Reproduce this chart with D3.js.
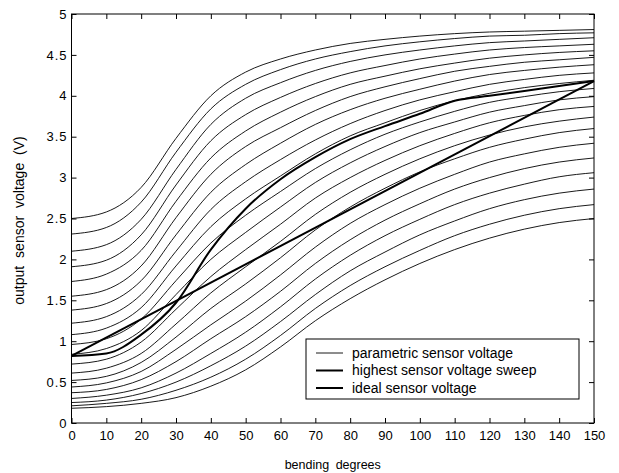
<!DOCTYPE html>
<html>
<head>
<meta charset="utf-8">
<script src="https://cdn.jsdelivr.net/npm/d3@7"></script>
<style>
  body { margin: 0; background: #fff; }
  text { font-family: "Liberation Sans", Arial, sans-serif; fill: #000; }
</style>
</head>
<body>
<div id="chart"></div>
<script>
// bending angle samples (degrees)
var degrees = [0, 10, 20, 30, 40, 50, 60, 70, 80, 90, 100, 110, 120, 130, 140, 150]

// parametric sensor voltage sweeps, top to bottom
var parametric = [
  [2.50, 2.58, 2.88, 3.48, 4.00, 4.29, 4.45, 4.56, 4.64, 4.69, 4.73, 4.76, 4.78, 4.79, 4.80, 4.81],
  [2.31, 2.39, 2.70, 3.31, 3.84, 4.14, 4.32, 4.45, 4.54, 4.61, 4.66, 4.70, 4.73, 4.74, 4.76, 4.77],
  [2.10, 2.18, 2.49, 3.10, 3.65, 3.97, 4.16, 4.31, 4.42, 4.50, 4.56, 4.61, 4.65, 4.67, 4.69, 4.71],
  [1.91, 1.99, 2.30, 2.91, 3.45, 3.77, 3.98, 4.15, 4.28, 4.37, 4.45, 4.51, 4.56, 4.59, 4.61, 4.63],
  [1.73, 1.82, 2.11, 2.71, 3.24, 3.57, 3.80, 3.99, 4.14, 4.24, 4.33, 4.40, 4.46, 4.50, 4.53, 4.55],
  [1.55, 1.63, 1.92, 2.51, 3.04, 3.38, 3.61, 3.82, 3.99, 4.11, 4.21, 4.30, 4.36, 4.41, 4.44, 4.47],
  [1.38, 1.46, 1.74, 2.30, 2.82, 3.16, 3.42, 3.65, 3.83, 3.97, 4.08, 4.18, 4.26, 4.31, 4.35, 4.38],
  [1.22, 1.30, 1.57, 2.10, 2.61, 2.95, 3.22, 3.46, 3.66, 3.82, 3.95, 4.05, 4.14, 4.20, 4.25, 4.28],
  [1.08, 1.16, 1.41, 1.92, 2.40, 2.74, 3.02, 3.29, 3.51, 3.67, 3.82, 3.94, 4.03, 4.10, 4.15, 4.19],
  [0.96, 1.03, 1.27, 1.74, 2.20, 2.54, 2.83, 3.11, 3.34, 3.53, 3.68, 3.81, 3.92, 3.99, 4.05, 4.09],
  [0.84, 0.91, 1.13, 1.57, 2.00, 2.33, 2.64, 2.94, 3.18, 3.38, 3.55, 3.68, 3.80, 3.88, 3.95, 3.99],
  [0.72, 0.78, 0.99, 1.39, 1.79, 2.12, 2.43, 2.75, 3.00, 3.21, 3.39, 3.54, 3.67, 3.76, 3.83, 3.87],
  [0.61, 0.67, 0.85, 1.21, 1.59, 1.91, 2.22, 2.55, 2.82, 3.04, 3.23, 3.39, 3.52, 3.62, 3.69, 3.74],
  [0.52, 0.57, 0.74, 1.05, 1.40, 1.70, 2.02, 2.36, 2.64, 2.87, 3.07, 3.23, 3.37, 3.47, 3.55, 3.60],
  [0.44, 0.49, 0.63, 0.90, 1.20, 1.49, 1.81, 2.15, 2.44, 2.67, 2.87, 3.04, 3.19, 3.29, 3.37, 3.42],
  [0.37, 0.41, 0.53, 0.75, 1.03, 1.30, 1.61, 1.95, 2.24, 2.48, 2.68, 2.86, 3.00, 3.11, 3.19, 3.24],
  [0.30, 0.34, 0.43, 0.61, 0.85, 1.11, 1.42, 1.76, 2.05, 2.29, 2.49, 2.67, 2.81, 2.92, 3.01, 3.06],
  [0.25, 0.28, 0.36, 0.50, 0.70, 0.94, 1.24, 1.57, 1.86, 2.09, 2.30, 2.47, 2.62, 2.73, 2.81, 2.86],
  [0.21, 0.24, 0.29, 0.40, 0.56, 0.78, 1.07, 1.40, 1.68, 1.91, 2.11, 2.29, 2.43, 2.54, 2.62, 2.67],
  [0.18, 0.20, 0.24, 0.31, 0.45, 0.65, 0.93, 1.25, 1.52, 1.75, 1.95, 2.12, 2.26, 2.37, 2.45, 2.50]
]

// highest sensor voltage sweep
var highest = [0.82, 0.85, 1.08, 1.47, 2.12, 2.62, 2.98, 3.25, 3.47, 3.63, 3.78, 3.94, 4.00, 4.06, 4.12, 4.18]

// ideal sensor voltage (straight line)
var idealDeg = [0, 150]
var ideal = [0.82, 4.18]

var xTicks = [0, 10, 20, 30, 40, 50, 60, 70, 80, 90, 100, 110, 120, 130, 140, 150]
var yTicks = [0, 0.5, 1, 1.5, 2, 2.5, 3, 3.5, 4, 4.5, 5]

var legendLabels = ["parametric sensor voltage", "highest sensor voltage sweep", "ideal sensor voltage"]

var width = 619, height = 473
var margin = {top: 14, right: 25, bottom: 50, left: 71.5}
var w = width - margin.left - margin.right
var h = height - margin.top - margin.bottom

var svg = d3.select("#chart").append("svg")
    .attr("width", width)
    .attr("height", height)

var g = svg.append("g")
    .attr("transform", "translate(" + margin.left + "," + margin.top + ")")

var x = d3.scaleLinear().domain([0, 150]).range([0, w])
var y = d3.scaleLinear().domain([0, 5]).range([h, 0])

var line = d3.line()
    .x(d => x(d[0]))
    .y(d => y(d[1]))
    .curve(d3.curveMonotoneX)

// thin curves
g.append("g")
    .attr("fill", "none")
    .attr("stroke", "#000")
    .attr("stroke-width", 0.9)
  .selectAll("path")
  .data(parametric)
  .join("path")
    .attr("d", d => line(degrees.map((t, i) => [t, d[i]])))

// thick curves
g.append("path")
    .attr("fill", "none")
    .attr("stroke", "#000")
    .attr("stroke-width", 2)
    .attr("d", line(degrees.map((t, i) => [t, highest[i]])))

g.append("path")
    .attr("fill", "none")
    .attr("stroke", "#000")
    .attr("stroke-width", 2)
    .attr("d", d3.line().x(d => x(d[0])).y(d => y(d[1]))(idealDeg.map((t, i) => [t, ideal[i]])))

// axes, ticks pointing inward on all four sides
var tickLen = 5

g.append("g")
    .attr("transform", "translate(0," + h + ")")
    .call(d3.axisBottom(x).tickValues(xTicks).tickSize(-tickLen).tickPadding(8).tickFormat(d => d))
g.append("g")
    .call(d3.axisTop(x).tickValues(xTicks).tickSize(-tickLen).tickFormat(""))
g.append("g")
    .attr("class", "yaxis")
    .call(d3.axisLeft(y).tickValues(yTicks).tickSize(-tickLen).tickPadding(4).tickFormat(d => d))
g.append("g")
    .attr("transform", "translate(" + w + ",0)")
    .call(d3.axisRight(y).tickValues(yTicks).tickSize(-tickLen).tickFormat(""))

g.selectAll(".domain").remove()
g.selectAll(".tick line").attr("stroke", "#000")
g.selectAll(".tick text")
    .style("font-family", "'Liberation Sans', Arial, sans-serif")
    .style("font-size", "13px")
g.selectAll(".yaxis .tick text")
    .style("letter-spacing", "1px")

// legend
var lg = g.append("g")
    .attr("transform", "translate(" + (306 - margin.left) + "," + (339 - margin.top) + ")")

lg.append("rect")
    .attr("width", 273)
    .attr("height", 60)
    .attr("fill", "#fff")
    .attr("stroke", "#000")
    .attr("stroke-width", 1)

lg.selectAll("line")
  .data(legendLabels)
  .join("line")
    .attr("x1", 10)
    .attr("x2", 37)
    .attr("y1", (d, i) => 14 + i * 17.5)
    .attr("y2", (d, i) => 14 + i * 17.5)
    .attr("stroke", "#000")
    .attr("stroke-width", (d, i) => i == 0 ? 0.9 : 2)

lg.selectAll("text")
  .data(legendLabels)
  .join("text")
    .attr("x", 46)
    .attr("y", (d, i) => 14 + i * 17.5)
    .attr("dy", "0.35em")
    .style("font-size", "14px")
    .text(d => d)

// frame
g.append("rect")
    .attr("width", w)
    .attr("height", h)
    .attr("fill", "none")
    .attr("stroke", "#000")
    .attr("stroke-width", 1)

// axis titles
svg.append("text")
    .attr("x", margin.left + w / 2)
    .attr("y", 469)
    .attr("text-anchor", "middle")
    .style("font-size", "12.5px")
    .style("word-spacing", "3px")
    .text("bending degrees")

svg.append("text")
    .attr("transform", "translate(24," + (margin.top + h / 2 + 2) + ") rotate(-90)")
    .attr("text-anchor", "middle")
    .style("font-size", "14px")
    .style("word-spacing", "4px")
    .text("output sensor voltage (V)")
</script>
</body>
</html>
